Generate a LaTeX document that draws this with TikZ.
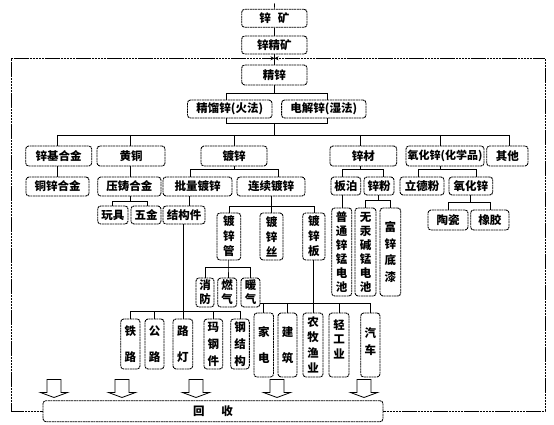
\documentclass[tikz,border=0pt]{standalone}
\usepackage{fontspec}
\newfontfamily\cjk{Noto Sans CJK SC}
\usetikzlibrary{arrows.meta}
\tikzset{
 box/.style={draw, line width=0.9pt, dash pattern=on 2pt off 0.6pt, rounded corners=3pt, inner sep=0pt, font=\cjk\bfseries\fontsize{11.5}{13}\selectfont, text=black},
 conn/.style={line width=0.7pt},
 frame/.style={line width=0.7pt, dash pattern=on 2.5pt off 0.6pt},
 hollow/.style={draw, line width=0.8pt, fill=white},
 tip/.style={-{Stealth[length=4pt,width=4pt]}},
}
\newcommand\bx[7][]{\node[box,minimum width={(#5-#3)*1pt},minimum height={(#6-#4)*1pt},#1] (#2) at ({(#3+#5)/2},{(#4+#6)/2}) {#7};}
\newcommand\vt[3][0pt]{\parbox{1.2em}{\centering\fontsize{11.5}{#2}\selectfont #3\par\vspace{#1}}}
\begin{document}
\begin{tikzpicture}[x=1pt,y=-1pt]
\useasboundingbox (0,0) rectangle (554,425);
\fill[white] (0,0) rectangle (554,425);
% boxes
\bx{ore}{241.7}{9.3}{307}{27.3}{锌\hspace{0.6em}矿}
\bx{conc}{241.7}{36}{307}{54}{锌精矿}
\bx{zinc}{241.7}{65}{307}{85}{精锌}
\bx{fire}{187.5}{100}{272}{118}{精馏锌(火法)}
\bx{elec}{281.6}{100}{366}{118}{电解锌(湿法)}
\bx{zba}{25.7}{146}{91.7}{166}{锌基合金}
\bx{brass}{97}{146}{165}{166}{黄铜}
\bx{galv}{201}{146}{267}{166}{镀锌}
\bx{zmat}{330}{146}{396.7}{166}{锌材}
\bx[font=\cjk\bfseries\fontsize{11}{13}\selectfont]{znoc}{406}{146}{484}{166}{氧化锌(化学品)}
\bx{other}{486.7}{146}{528}{166}{其他}
\bx{cuzn}{26}{177}{89}{196}{铜锌合金}
\bx{diec}{97.7}{177}{161}{196}{压铸合金}
\bx{batch}{163}{177}{232}{196}{批量镀锌}
\bx{cont}{237}{177}{305}{196}{连续镀锌}
\bx{foil}{331}{177}{360.7}{195}{板泊}
\bx{powd}{364}{177}{394}{195}{锌粉}
\bx{litho}{400}{177}{444}{195}{立德粉}
\bx{zno}{449}{177}{492.7}{195}{氧化锌}
\bx{toy}{97.7}{206}{128}{224}{玩具}
\bx{hw}{131}{206}{161}{224}{五金}
\bx{struct}{163}{206}{205}{224}{结构件}
\bx{cer}{428}{210}{468}{230}{陶瓷}
\bx{rub}{470.7}{210}{509}{230}{橡胶}
\bx{pipe}{217}{213}{240.7}{260}{\vt{15pt}{镀\\锌\\管}}
\bx{wire}{260}{213}{283}{260}{\vt{15pt}{镀\\锌\\丝}}
\bx{sheet}{302.7}{213}{325}{260}{\vt{15pt}{镀\\锌\\板}}
\bx{batt1}{331.7}{208}{351.7}{296}{\vt{14pt}{普\\通\\锌\\锰\\电\\池}}
\bx{batt2}{355}{208}{376}{296}{\vt{14pt}{无\\汞\\碱\\锰\\电\\池}}
\bx{paint}{380}{208}{400.7}{296}{\vt{16.5pt}{富\\锌\\底\\漆}}
\bx{fprot}{196}{278}{214}{307}{\vt{14pt}{消\\防}}
\bx{gas}{217.7}{278}{236.7}{307}{\vt{14pt}{燃\\气}}
\bx{heat}{241}{278}{260}{307}{\vt{14pt}{暖\\气}}
\bx{rail}{120.7}{319}{140}{369}{\vt{26pt}{铁\\路}}
\bx{road}{145}{319}{164}{369}{\vt{26pt}{公\\路}}
\bx{lamp}{173}{319}{192.7}{369}{\vt{26pt}{路\\灯}}
\bx{mall}{204}{319}{222.7}{369}{\vt{17pt}{玛\\钢\\件}}
\bx{steel}{230.7}{319}{249.3}{369}{\vt{17pt}{钢\\结\\构}}
\bx{appl}{254}{313}{273.5}{377}{\vt{26pt}{家\\电}}
\bx{build}{278}{313}{297}{377}{\vt{26pt}{建\\筑}}
\bx{agri}{303}{313}{323}{377}{\vt{15.5pt}{农\\牧\\渔\\业}}
\bx{light}{329}{313}{349}{377}{\vt[12pt]{14.5pt}{轻\\工\\业}}
\bx{auto}{360.7}{313}{380}{377}{\vt[7pt]{17pt}{汽\\车}}
\bx{recyc}{43}{400.7}{383}{421.7}{回\hspace{17pt}收}
% top chain
\coordinate (top) at (274.5,3.5);
\draw[conn] (top) -- (ore.north);
\draw[conn] (ore.south) -- (conc.north);
\draw[conn] (conc.south) -- (zinc.north);
% recycling frame
\coordinate (ftl) at (11,58.3); \coordinate (ftr) at (545,58.3);
\coordinate (fbl) at (11,411.2); \coordinate (fbr) at (545,411.2);
\coordinate (fm) at (274.5,58.3);
\draw[frame,tip] (recyc.west) -- (fbl) -- (ftl) -- (fm);
\draw[frame,tip] (recyc.east) -- (fbr) -- (ftr) -- (fm);
% brackets around smelting
\coordinate (b1) at (226,93.3); \coordinate (b2) at (327,93.3);
\coordinate (b3) at (226,123); \coordinate (b4) at (327,123);
\draw[conn] (zinc.south) -- (zinc.south |- b1);
\draw[conn] (b1 |- fire.north) -- (b1) -- (b2) -- (b2 |- elec.north);
\draw[conn] (b3 |- fire.south) -- (b3) -- (b4) -- (b4 |- elec.south);
% main line
\coordinate (m1) at (57,135); \coordinate (m2) at (509,135);
\coordinate (c130) at (130,135); \coordinate (c360) at (360,135); \coordinate (c440) at (440,135);
\draw[conn] (zinc.south |- b3) -- (zinc.south |- m1);
\draw[conn] (m1) -- (m2);
\draw[conn] (m1) -- (m1 |- zba.north);
\draw[conn] (m1 |- zba.south) -- (m1 |- cuzn.north);
\draw[conn] (c130) -- (c130 |- brass.north);
\draw[conn] (c130 |- brass.south) -- (c130 |- diec.north);
\draw[conn] (galv.north |- m1) -- (galv.north);
\draw[conn] (c360) -- (c360 |- zmat.north);
\draw[conn] (c440) -- (c440 |- znoc.north);
\draw[conn] (m2) -- (m2 |- other.north);
% second level brackets
\coordinate (g1) at (190,169); \coordinate (g2) at (278,169);
\draw[conn] (galv.south) -- (galv.south |- g1);
\draw[conn] (g1 |- batch.north) -- (g1) -- (g2) -- (g2 |- cont.north);
\coordinate (z1) at (342.7,169); \coordinate (z2) at (383.3,169);
\draw[conn] (c360 |- zmat.south) -- (c360 |- z1);
\draw[conn] (z1 |- foil.north) -- (z1) -- (z2) -- (z2 |- powd.north);
\coordinate (o1) at (418,169); \coordinate (o2) at (476,169);
\draw[conn] (c440 |- znoc.south) -- (c440 |- o1);
\draw[conn] (o1 |- litho.north) -- (o1) -- (o2) -- (o2 |- zno.north);
% third level
\coordinate (d1) at (112,201); \coordinate (d2) at (147,201);
\draw[conn] (c130 |- diec.south) -- (c130 |- d1);
\draw[conn] (d1 |- toy.north) -- (d1) -- (d2) -- (d2 |- hw.north);
\coordinate (s1) at (189,196);
\draw[conn] (s1 |- batch.south) -- (s1 |- struct.north);
\coordinate (k0) at (271.5,206); \coordinate (k1) at (229,206); \coordinate (k2) at (314,206);
\draw[conn] (k0 |- cont.south) -- (k0) -- (k0 |- wire.north);
\draw[conn] (k1 |- pipe.north) -- (k1) -- (k2) -- (k2 |- sheet.north);
\coordinate (f0) at (342,195);
\draw[conn] (f0 |- foil.south) -- (f0 |- batt1.north);
\coordinate (w0) at (378,200); \coordinate (w1) at (365.5,200); \coordinate (w2) at (390,200);
\draw[conn] (w0 |- powd.south) -- (w0);
\draw[conn] (w1 |- batt2.north) -- (w1) -- (w2) -- (w2 |- paint.north);
\coordinate (n0) at (470,202); \coordinate (n1) at (448,202); \coordinate (n2) at (490,202);
\draw[conn] (n0 |- zno.south) -- (n0);
\draw[conn] (n1 |- cer.north) -- (n1) -- (n2) -- (n2 |- rub.north);
% pipe uses
\coordinate (p0) at (228,267); \coordinate (p1) at (205,267); \coordinate (p2) at (250.5,267);
\draw[conn] (p0 |- pipe.south) -- (p0) -- (p0 |- gas.north);
\draw[conn] (p1 |- fprot.north) -- (p1) -- (p2) -- (p2 |- heat.north);
% application lines
\coordinate (l0) at (183,311);
\draw[conn] (l0 |- struct.south) -- (l0 |- lamp.north);
\coordinate (h1) at (130.3,311); \coordinate (h2) at (240,311);
\draw[conn] (h1 |- rail.north) -- (h1) -- (h2) -- (h2 |- steel.north);
\draw[conn] (road.north) -- (road.north |- h1);
\draw[conn] (mall.north) -- (mall.north |- h1);
\coordinate (r0) at (313.5,303); \coordinate (r2) at (370.3,303);
\draw[conn] (r0 |- sheet.south) -- (r0 |- agri.north);
\draw[conn] (heat.east |- r0) -- (r2) -- (r2 |- auto.north);
\draw[conn] (appl.north |- r0) -- (appl.north);
\draw[conn] (build.north |- r0) -- (build.north);
\draw[conn] (light.north |- r0) -- (light.north);
% hollow recycling arrows
\foreach \x in {54,122,196,277,364}
  \draw[hollow] (\x-7,379.5) -- (\x+7,379.5) -- (\x+7,392.5) -- (\x+13.5,392.5) -- (\x,397.5) -- (\x-13.5,392.5) -- (\x-7,392.5) -- cycle;
\end{tikzpicture}
\end{document}
